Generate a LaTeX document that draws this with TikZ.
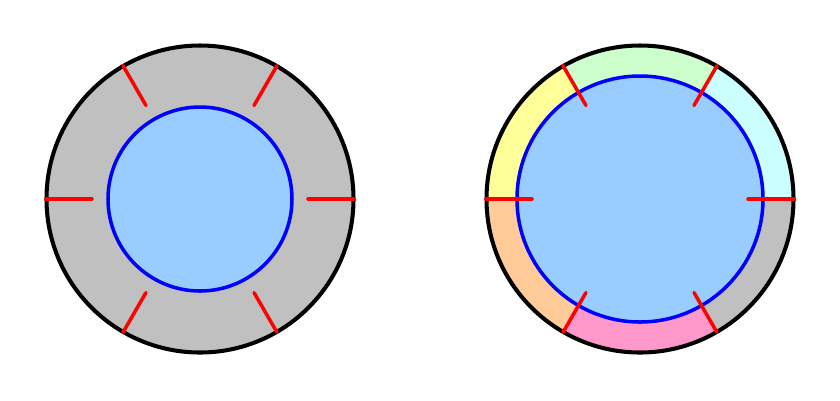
\documentclass[tikz,border=0pt]{standalone}
\usetikzlibrary{calc}
\definecolor{ringgray}{HTML}{C0C0C0}
\definecolor{coreblue}{HTML}{99CCFF}
\definecolor{ringcyan}{HTML}{CCFFFF}
\definecolor{ringgreen}{HTML}{CCFFCC}
\definecolor{ringyellow}{HTML}{FFFF99}
\definecolor{ringpeach}{HTML}{FFCC99}
\definecolor{ringpink}{HTML}{FF99CC}
\begin{document}
\begin{tikzpicture}[
    rim/.style={draw=black, line width=1.15pt},
    core/.style={draw=blue, fill=coreblue, line width=1pt},
    redtick/.style={draw=red, line width=1pt, line cap=round}]
        \useasboundingbox (0,0) rectangle (8.4,4);
        % Define the centres of the two rings
        \coordinate (l) at (2.0,2.01);
        \coordinate (r) at (6.4,2.01);

        % Left ring
        \fill[ringgray] (l) circle (1.535);
        \draw[core] (l) circle (0.92);
        \draw[rim] (l) circle (1.535);
        \foreach \a in {0,60,...,300}
        \draw[redtick] ($(l)+(\a:1.08)$) -- ($(l)+(\a:1.54)$);

        % Right ring
        \foreach \a/\c in {0/ringcyan, 60/ringgreen, 120/ringyellow, 180/ringpeach, 240/ringpink, 300/ringgray}
        \fill[\c] (r) -- ($(r)+(\a:1.535)$) arc (\a:\a+60:1.535) -- cycle;
        \draw[core] (r) circle (1.23);
        \draw[rim] (r) circle (1.535);
        \foreach \a in {0,60,...,300}
        \draw[redtick] ($(r)+(\a:1.08)$) -- ($(r)+(\a:1.54)$);
      \end{tikzpicture}
\end{document}
